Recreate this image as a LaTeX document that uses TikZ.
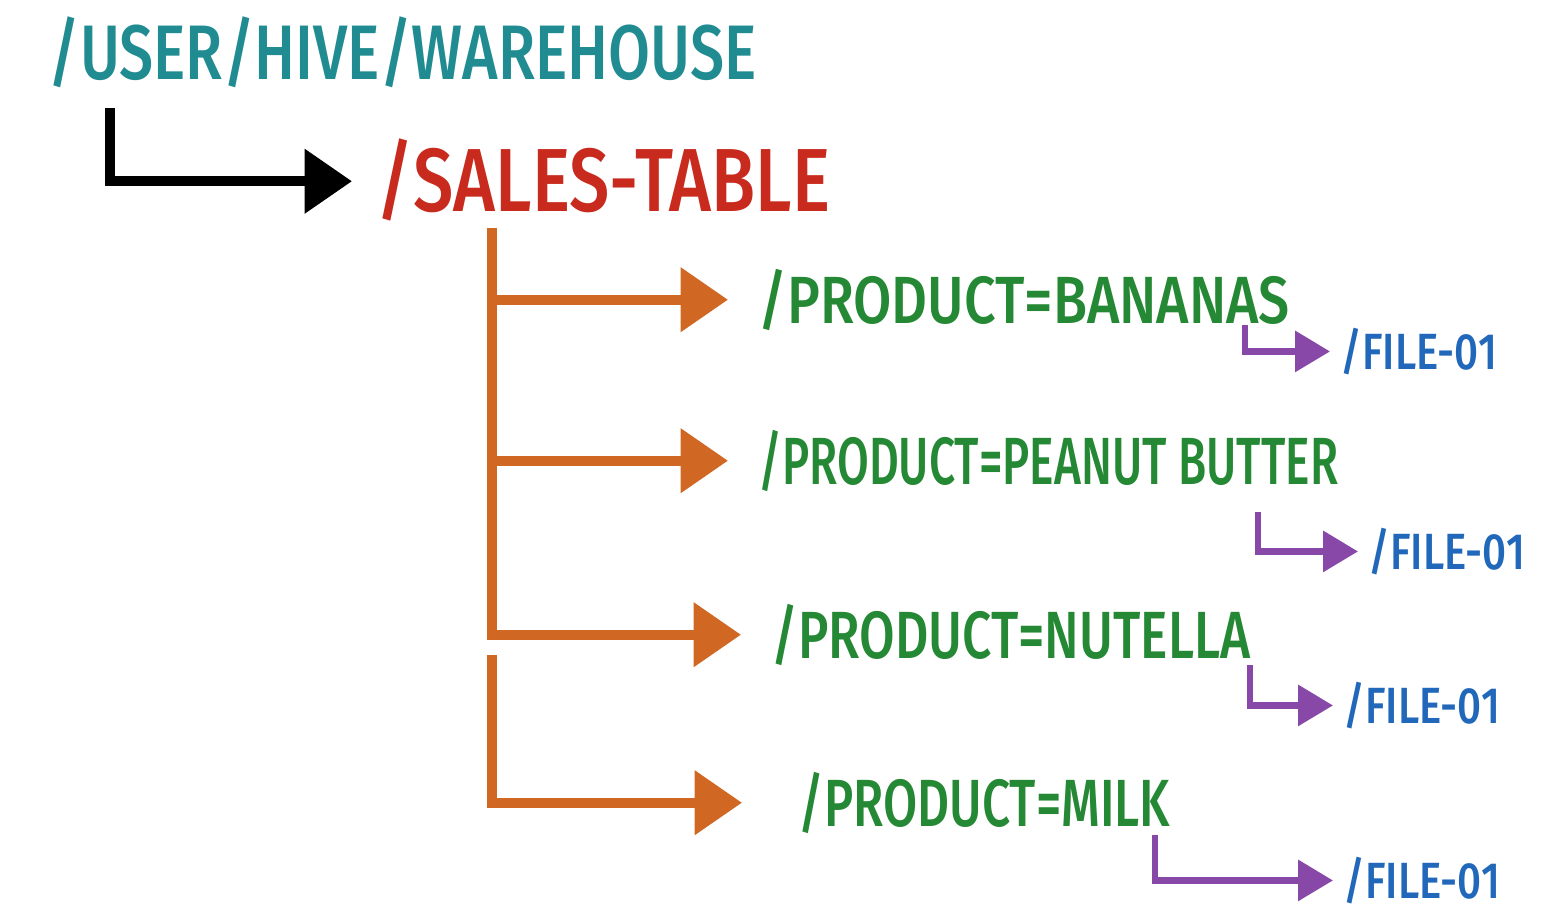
\documentclass[tikz,border=0pt]{standalone}
\usepackage{fontspec}
\setmainfont{Fira Sans}[FakeStretch=0.75, BoldFont={Fira Sans Medium}]
\usetikzlibrary{arrows.meta}
\definecolor{hiveteal}{RGB}{32,140,146}
\definecolor{tablered}{RGB}{200,42,30}
\definecolor{partorange}{RGB}{208,104,36}
\definecolor{partgreen}{RGB}{36,136,52}
\definecolor{filepurple}{RGB}{136,72,168}
\definecolor{fileblue}{RGB}{34,104,186}

\begin{document}
\begin{tikzpicture}[x=0.02cm, y=-0.02cm,
	lbl/.style={inner sep=0pt, anchor=base west, text depth=0pt},
	bigarrow/.style={line width=0.2cm, -{Triangle[length=0.95cm,width=1.25cm]}, shorten >=0.6cm},
	smallarrow/.style={line width=0.13cm, filepurple, -{Triangle[length=0.7cm,width=0.8cm]}, shorten >=0.2cm}]
\useasboundingbox (0, 0) rectangle (1568, 922);

\node[lbl, text=hiveteal, font=\bfseries\fontsize{44}{44}\selectfont, text height=30pt] at (48, 80) (wh) {\scalebox{1.05}[1]{/USER/HIVE/WAREHOUSE}};
\node[lbl, text=tablered, font=\bfseries\fontsize{51}{51}\selectfont, text height=35pt] at (376, 212) (sales) {\scalebox{1.07}[1]{/SALES-TABLE}};

\foreach \n/\x/\y/\s/\t in {bananas/758/323/1.11/BANANAS, peanut/758/484/0.92/PEANUT BUTTER, nutella/771/658/1.03/NUTELLA, milk/798/826/0.99/MILK}
	\node[lbl, text=partgreen, font=\bfseries\fontsize{38}{38}\selectfont, text height=26.5pt] at (\x, \y) (\n) {\scalebox{\s}[1]{/PRODUCT=\t}};
\foreach \n/\x/\y in {f1/1340/369, f2/1368/569, f3/1343/723, f4/1343/898}
	\node[lbl, text=fileblue, font=\bfseries\fontsize{29}{29}\selectfont, text height=20pt] at (\x, \y) (\n) {\scalebox{1.1}[1]{/FILE-01}};

\coordinate (whdrop) at (110, 108);
\coordinate (trunk) at (492, 228);
\coordinate (trunk2) at (492, 655);

\draw[bigarrow, black, shorten >=0.48cm] (whdrop) |- (sales);

\draw[bigarrow, partorange] (trunk) |- (bananas);
\draw[bigarrow, partorange] (trunk |- bananas) |- (peanut);
\draw[bigarrow, partorange] (trunk |- peanut) |- (nutella);
\draw[bigarrow, partorange, shorten >=1.12cm] (trunk2) |- (milk);

\foreach \d/\x/\y/\f in {1/1245/325/f1, 2/1258/512/f2, 3/1250/665/f3, 4/1155/835/f4}{
	\coordinate (drop\d) at (\x, \y);
	\draw[smallarrow] (drop\d) |- (\f);}

\end{tikzpicture}
\end{document}
